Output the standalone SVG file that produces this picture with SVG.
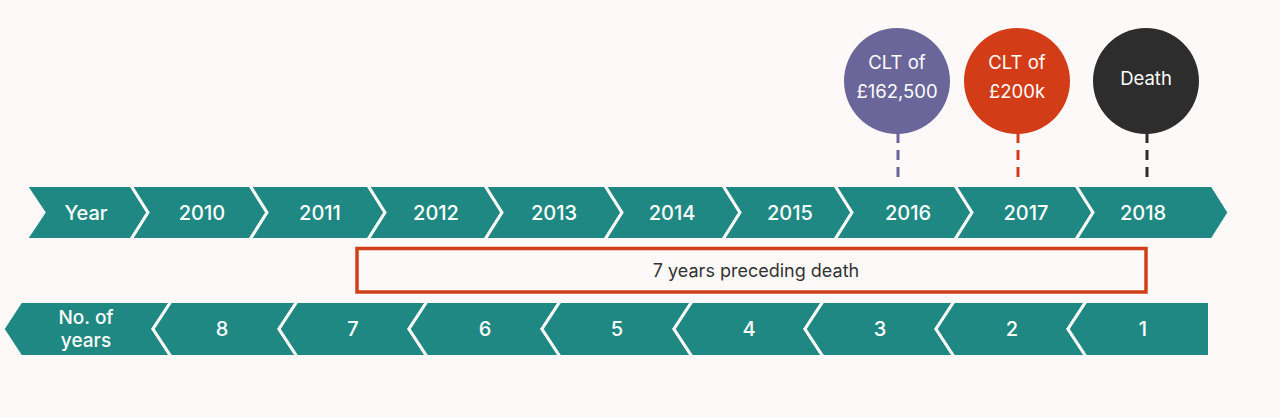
<svg xmlns="http://www.w3.org/2000/svg" width="1280" height="417" viewBox="0 0 1280 417">
<style>
.seg{fill:#1F8882;stroke:#FDF9F8;stroke-width:3;stroke-linejoin:miter}
.lbl{font-family:Inter,"Noto Sans","Liberation Sans",sans-serif;font-size:20px;font-weight:500;fill:#FFFFFF;text-anchor:middle}
.lbl2{font-family:Inter,"Noto Sans","Liberation Sans",sans-serif;font-size:19px;font-weight:500;fill:#FFFFFF;text-anchor:middle}
.ctxt{font-family:Inter,"Noto Sans","Liberation Sans",sans-serif;font-size:18.5px;font-weight:400;fill:#FFFFFF;text-anchor:middle}
.dash{stroke-width:3;stroke-dasharray:10 7;fill:none}
</style>
<rect x="0" y="0" width="1280" height="417" fill="#FDF9F8"/>

<g id="connectors">
<line class="dash" x1="898" y1="133" x2="898" y2="187" stroke="#6A6699"/>
<line class="dash" x1="1018" y1="133" x2="1018" y2="187" stroke="#D23C16"/>
<line class="dash" x1="1147" y1="133" x2="1147" y2="187" stroke="#2D2D2D"/>
</g>

<g id="year-row">
<g id="seg-year"><polygon class="seg" points="26,185.5 131,185.5 148,212.5 131,239.5 26,239.5 44,212.5"/><text class="lbl" x="86" y="220">Year</text></g>
<g id="seg-2010"><polygon class="seg" points="131,185.5 250,185.5 267,212.5 250,239.5 131,239.5 148,212.5"/><text class="lbl" x="202" y="220">2010</text></g>
<g id="seg-2011"><polygon class="seg" points="250,185.5 368,185.5 385,212.5 368,239.5 250,239.5 267,212.5"/><text class="lbl" x="320" y="220">2011</text></g>
<g id="seg-2012"><polygon class="seg" points="368,185.5 485,185.5 502,212.5 485,239.5 368,239.5 385,212.5"/><text class="lbl" x="436" y="220">2012</text></g>
<g id="seg-2013"><polygon class="seg" points="485,185.5 605,185.5 622,212.5 605,239.5 485,239.5 502,212.5"/><text class="lbl" x="554" y="220">2013</text></g>
<g id="seg-2014"><polygon class="seg" points="605,185.5 723,185.5 740,212.5 723,239.5 605,239.5 622,212.5"/><text class="lbl" x="672" y="220">2014</text></g>
<g id="seg-2015"><polygon class="seg" points="723,185.5 835,185.5 852,212.5 835,239.5 723,239.5 740,212.5"/><text class="lbl" x="790" y="220">2015</text></g>
<g id="seg-2016"><polygon class="seg" points="835,185.5 955,185.5 972,212.5 955,239.5 835,239.5 852,212.5"/><text class="lbl" x="908" y="220">2016</text></g>
<g id="seg-2017"><polygon class="seg" points="955,185.5 1076,185.5 1093,212.5 1076,239.5 955,239.5 972,212.5"/><text class="lbl" x="1026" y="220">2017</text></g>
<g id="seg-2018"><polygon class="seg" points="1076,185.5 1212,185.5 1229,212.5 1212,239.5 1076,239.5 1093,212.5"/><text class="lbl" x="1143" y="220">2018</text></g>
</g>

<g id="event-clt1"><circle cx="897" cy="81" r="53" fill="#6A6699"/><text class="ctxt" x="897" y="69">CLT of</text><text class="ctxt" x="897" y="98">£162,500</text></g>
<g id="event-clt2"><circle cx="1017" cy="81" r="53" fill="#D23C16"/><text class="ctxt" x="1017" y="69">CLT of</text><text class="ctxt" x="1017" y="98">£200k</text></g>
<g id="event-death"><circle cx="1146" cy="81" r="53" fill="#2D2D2D"/><text class="ctxt" x="1146" y="85">Death</text></g>

<g id="seven-years">
<rect x="357" y="248.5" width="789" height="43.5" fill="none" stroke="#D0401A" stroke-width="3.5"/>
<text x="756" y="277" font-family="Inter,'Noto Sans','Liberation Sans',sans-serif" font-size="18" fill="#333333" text-anchor="middle">7 years preceding death</text>
</g>

<g id="years-row">
<g id="seg-no-of-years"><polygon class="seg" points="3,329 21,301.5 171,301.5 153,329 171,356.5 21,356.5"/><text class="lbl2" x="86" y="323.5">No. of</text><text class="lbl2" x="86" y="346.5">years</text></g>
<g id="seg-8"><polygon class="seg" points="153,329 171,301.5 297,301.5 279,329 297,356.5 171,356.5"/><text class="lbl" x="222" y="336">8</text></g>
<g id="seg-7"><polygon class="seg" points="279,329 297,301.5 427,301.5 409,329 427,356.5 297,356.5"/><text class="lbl" x="353" y="336">7</text></g>
<g id="seg-6"><polygon class="seg" points="409,329 427,301.5 560,301.5 542,329 560,356.5 427,356.5"/><text class="lbl" x="485" y="336">6</text></g>
<g id="seg-5"><polygon class="seg" points="542,329 560,301.5 692,301.5 674,329 692,356.5 560,356.5"/><text class="lbl" x="617" y="336">5</text></g>
<g id="seg-4"><polygon class="seg" points="674,329 692,301.5 823,301.5 805,329 823,356.5 692,356.5"/><text class="lbl" x="749" y="336">4</text></g>
<g id="seg-3"><polygon class="seg" points="805,329 823,301.5 954,301.5 936,329 954,356.5 823,356.5"/><text class="lbl" x="880" y="336">3</text></g>
<g id="seg-2"><polygon class="seg" points="936,329 954,301.5 1086,301.5 1068,329 1086,356.5 954,356.5"/><text class="lbl" x="1012" y="336">2</text></g>
<g id="seg-1"><polygon class="seg" points="1068,329 1086,301.5 1209.5,301.5 1209.5,356.5 1086,356.5"/><text class="lbl" x="1143" y="336">1</text></g>
</g>
</svg>
